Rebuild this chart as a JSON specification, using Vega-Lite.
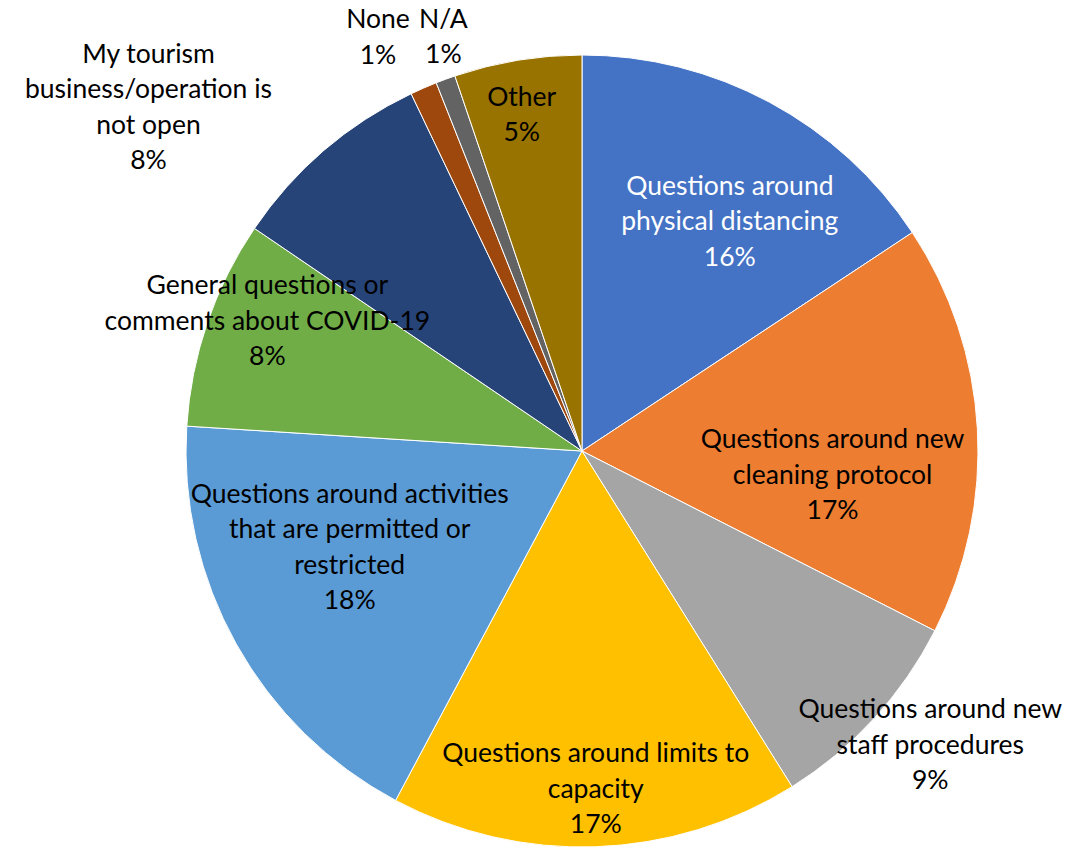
{
  "$schema": "https://vega.github.io/schema/vega-lite/v6.json",
  "width": 792,
  "height": 792,
  "autosize": {"type": "none"},
  "padding": {"left": 186, "top": 55, "right": 94, "bottom": 6},
  "background": "white",
  "config": {"view": {"stroke": null}, "text": {"font": "Lato", "fontSize": 26.5, "lineBreak": "\n", "lineHeight": 35.5, "align": "center", "baseline": "middle", "fill": "black"}},
  "data": {"values": [
    {"order": 1, "cat": "dist", "value": 15.7, "label": "Questions around\nphysical distancing\n16%"},
    {"order": 2, "cat": "clean", "value": 16.8, "label": "Questions around new\ncleaning protocol\n17%"},
    {"order": 3, "cat": "staff", "value": 8.6, "label": "Questions around new\nstaff procedures\n9%"},
    {"order": 4, "cat": "cap", "value": 16.7, "label": "Questions around limits to\ncapacity\n17%"},
    {"order": 5, "cat": "act", "value": 18.2, "label": "Questions around activities\nthat are permitted or\nrestricted\n18%"},
    {"order": 6, "cat": "gen", "value": 8.5, "label": "General questions or\ncomments about COVID-19\n8%"},
    {"order": 7, "cat": "tour", "value": 8.4, "label": "My tourism\nbusiness/operation is\nnot open\n8%"},
    {"order": 8, "cat": "none", "value": 1.1, "label": "None\n1%"},
    {"order": 9, "cat": "na", "value": 0.8, "label": "N/A\n1%"},
    {"order": 10, "cat": "other", "value": 5.2, "label": "Other\n5%"}
  ]},
  "encoding": {
    "theta": {"field": "value", "type": "quantitative", "stack": true},
    "order": {"field": "order", "type": "quantitative"}
  },
  "layer": [
    {"mark": {"type": "arc", "stroke": "white", "strokeWidth": 1},
     "encoding": {"color": {"field": "cat", "type": "nominal", "legend": null,
       "scale": {"domain": ["dist", "clean", "staff", "cap", "act", "gen", "tour", "none", "na", "other"],
                 "range": ["#4472C4", "#ED7D31", "#A5A5A5", "#FFC000", "#5B9BD5", "#70AD47", "#264478", "#9E480E", "#636363", "#997300"]}}}},
    {"mark": {"type": "text", "radius": 270, "dx": 20, "dy": -26.5, "fill": "white"},
     "encoding": {"text": {"condition": {"test": "datum.cat === 'dist'", "field": "label", "type": "nominal"}, "value": ""}}},
    {"mark": {"type": "text", "radius": 250, "dx": 1, "dy": 3.5},
     "encoding": {"text": {"condition": {"test": "datum.cat === 'clean'", "field": "label", "type": "nominal"}, "value": ""}}},
    {"mark": {"type": "text", "radius": 456, "dx": 12, "dy": -48.5},
     "encoding": {"text": {"condition": {"test": "datum.cat === 'staff'", "field": "label", "type": "nominal"}, "value": ""}}},
    {"mark": {"type": "text", "radius": 340, "dx": 2, "dy": -36.5},
     "encoding": {"text": {"condition": {"test": "datum.cat === 'cap'", "field": "label", "type": "nominal"}, "value": ""}}},
    {"mark": {"type": "text", "radius": 250, "dx": -14, "dy": -78},
     "encoding": {"text": {"condition": {"test": "datum.cat === 'act'", "field": "label", "type": "nominal"}, "value": ""}}},
    {"mark": {"type": "text", "radius": 340, "dx": 7, "dy": -54.5},
     "encoding": {"text": {"condition": {"test": "datum.cat === 'gen'", "field": "label", "type": "nominal"}, "value": ""}}},
    {"mark": {"type": "text", "radius": 550, "dx": -75, "dy": 21},
     "encoding": {"text": {"condition": {"test": "datum.cat === 'tour'", "field": "label", "type": "nominal"}, "value": ""}}},
    {"mark": {"type": "text", "radius": 460, "dx": -20, "dy": -9},
     "encoding": {"text": {"condition": {"test": "datum.cat === 'none'", "field": "label", "type": "nominal"}, "value": ""}}},
    {"mark": {"type": "text", "radius": 440, "dx": 13, "dy": -18},
     "encoding": {"text": {"condition": {"test": "datum.cat === 'na'", "field": "label", "type": "nominal"}, "value": ""}}},
    {"mark": {"type": "text", "radius": 340, "dx": -5, "dy": -18},
     "encoding": {"text": {"condition": {"test": "datum.cat === 'other'", "field": "label", "type": "nominal"}, "value": ""}}}
  ]
}
